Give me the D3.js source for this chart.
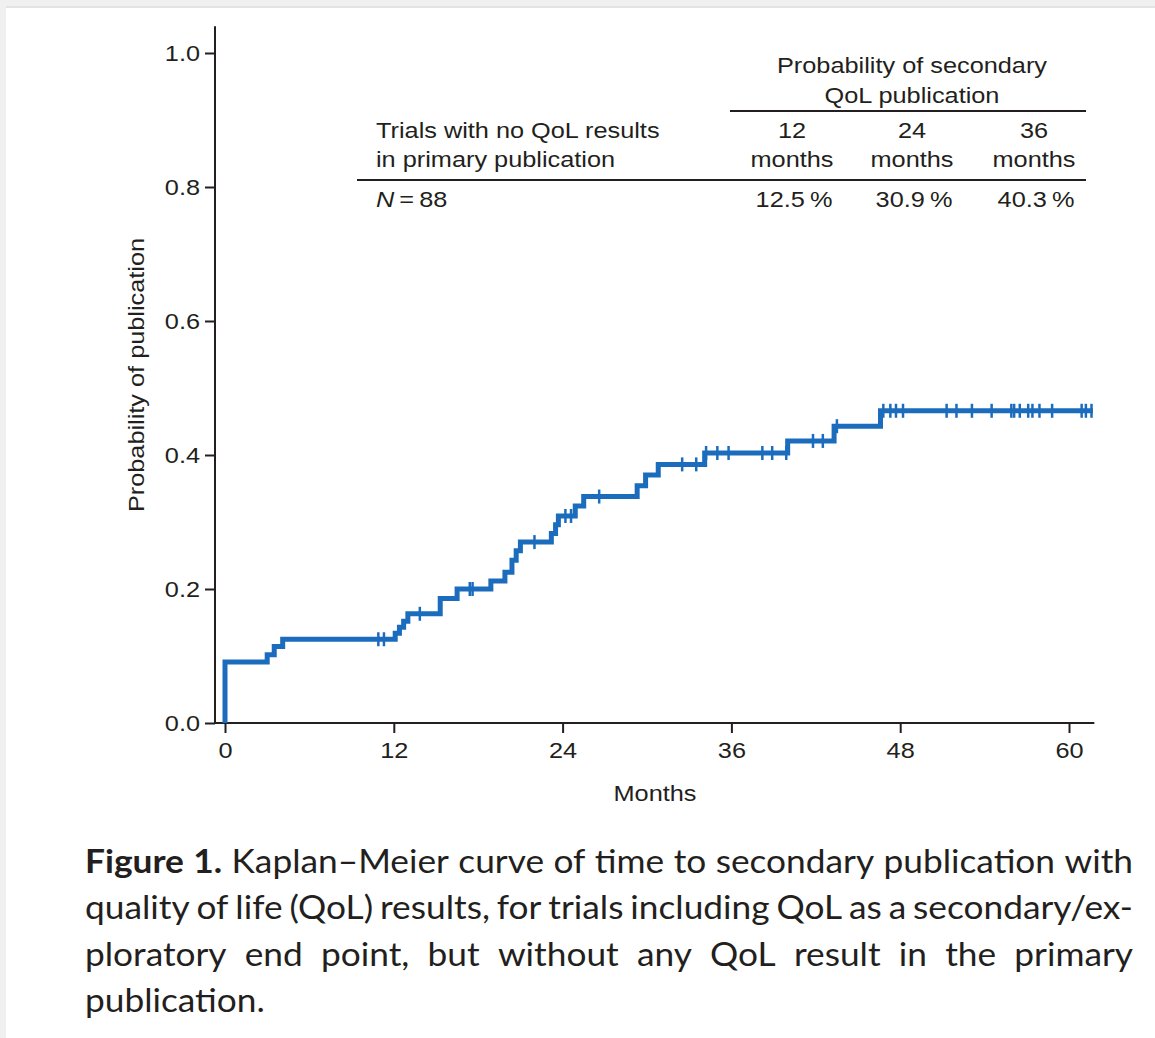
<!DOCTYPE html>
<html>
<head>
<meta charset="utf-8">
<script src="https://cdn.jsdelivr.net/npm/d3@7"></script>
<style>
  html, body { margin: 0; padding: 0; background: #f0f0f0; }
  svg { display: block; }
</style>
</head>
<body>
<svg id="fig" width="1155" height="1038"></svg>
<script>
// Kaplan–Meier estimate: times (months) at which the cumulative probability steps up
const eventTimes = [0, 3.0, 3.5, 4.1, 12.1, 12.4, 12.7, 13.0, 15.3, 16.5, 18.9, 19.9, 20.4, 20.7, 21.0,
  23.2, 23.5, 23.7, 24.9, 25.5, 29.3, 29.9, 30.8, 34.1, 40.0, 43.3, 46.6];
// cumulative probability of publication after each step
const cumProb = [0.091, 0.102, 0.114, 0.125, 0.134, 0.143, 0.152, 0.163, 0.186, 0.200, 0.212, 0.225, 0.243, 0.257, 0.270,
  0.283, 0.296, 0.309, 0.324, 0.338, 0.354, 0.370, 0.386, 0.403, 0.421, 0.443, 0.466];
// censored observations (months)
const censorTimes = [10.9, 11.3, 13.85, 17.4, 17.6, 22.0, 24.2, 24.6, 26.6, 32.5, 33.5, 34.2, 35.0, 35.8,
  38.2, 38.9, 39.9, 41.8, 42.5, 43.5, 46.8, 47.3, 47.7, 48.2, 51.3, 52.0, 53.1, 54.5, 55.9, 56.1, 56.5,
  57.1, 57.4, 57.9, 58.8, 60.9, 61.2, 61.6];
const followUpEnd = 61.7;

const xTicks = [0, 12, 24, 36, 48, 60];
const yTicks = [0, 0.2, 0.4, 0.6, 0.8, 1.0];

// inset table
const tableHeader = ["Probability of secondary", "QoL publication"];
const rowLabel = ["Trials with no QoL results", "in primary publication"];
const landmarkMonths = [12, 24, 36];
const landmarkProb = [12.5, 30.9, 40.3];
const sampleSize = 88;

// caption, one entry per printed line
const captionLines = [
  "Kaplan–Meier curve of time to secondary publication with",
  "quality of life (QoL) results, for trials including QoL as a secondary/ex-",
  "ploratory end point, but without any QoL result in the primary",
  "publication."
];
const captionLead = "Figure 1.";

const svg = d3.select("#fig");
const W = 1155, H = 1038;
const axisFont = "'Liberation Sans', Arial, Helvetica, sans-serif";
const ink = "#231f20";
const blue = "#1c6cbd";
const widen = 1.15;   // the chart lettering is set slightly expanded

// page panel
svg.append("rect").attr("x", 0).attr("y", 0).attr("width", W).attr("height", H).attr("fill", "#f0f0f0");
svg.append("rect").attr("x", 6).attr("y", 6).attr("width", W - 6).attr("height", 2).attr("fill", "#e3e3e3");
svg.append("rect").attr("x", 6).attr("y", 8).attr("width", W - 6).attr("height", H - 8).attr("fill", "#ffffff");

const chart = svg.append("g").attr("class", "chart");
const x = d3.scaleLinear().domain([0, 60]).range([225, 1069]);
const y = d3.scaleLinear().domain([0, 1]).range([723, 53]);
const axisX0 = 215;

// y axis
const gy = chart.append("g").attr("transform", `translate(${axisX0},0)`)
  .call(d3.axisLeft(y).tickValues(yTicks).tickFormat(d3.format(".1f")).tickSize(10).tickPadding(5).tickSizeOuter(0));
gy.select(".domain").remove();
gy.append("line").attr("x1", 0).attr("x2", 0).attr("y1", y(1.04)).attr("y2", y(0))
  .attr("stroke", ink).attr("stroke-width", 2);
gy.selectAll(".tick line").attr("stroke", ink).attr("stroke-width", 2);
gy.selectAll(".tick text").attr("font-family", axisFont).attr("font-size", 22).attr("fill", ink);

// x axis
const gx = chart.append("g").attr("transform", `translate(0,${y(0)})`)
  .call(d3.axisBottom(x).tickValues(xTicks).tickSize(10).tickPadding(9).tickSizeOuter(0));
gx.select(".domain").remove();
gx.append("line").attr("x1", axisX0).attr("x2", x(61.8)).attr("y1", 0).attr("y2", 0)
  .attr("stroke", ink).attr("stroke-width", 2);
gx.selectAll(".tick line").attr("stroke", ink).attr("stroke-width", 2);
gx.selectAll(".tick text").attr("font-family", axisFont).attr("font-size", 22).attr("fill", ink);

// axis titles
chart.append("text").attr("x", 655).attr("y", 801).attr("text-anchor", "middle")
  .attr("font-family", axisFont).attr("font-size", 22).attr("fill", ink).text("Months");
chart.append("text").attr("transform", `translate(144,375) rotate(-90)`).attr("text-anchor", "middle")
  .attr("font-family", axisFont).attr("font-size", 22).attr("fill", ink).text("Probability of publication");

// step curve
const pts = [[0, 0]].concat(eventTimes.map((t, i) => [t, cumProb[i]])).concat([[followUpEnd, cumProb[cumProb.length - 1]]]);
const line = d3.line().x(d => x(d[0])).y(d => y(d[1])).curve(d3.curveStepAfter);
chart.append("path").attr("d", line(pts)).attr("fill", "none").attr("stroke", blue)
  .attr("stroke-width", 5).attr("stroke-linejoin", "miter");

// censor marks
const probAt = t => { const i = d3.bisectRight(eventTimes, t) - 1; return i < 0 ? 0 : cumProb[i]; };
chart.append("g").selectAll("line").data(censorTimes).join("line")
  .attr("x1", d => x(d)).attr("x2", d => x(d))
  .attr("y1", d => y(probAt(d)) - 7).attr("y2", d => y(probAt(d)) + 7)
  .attr("stroke", blue).attr("stroke-width", 2.5);

// inset table
const tf = chart.append("g").attr("font-family", axisFont).attr("font-size", 22).attr("fill", ink);
const colX = [792, 912, 1034];
tf.append("text").attr("x", 912).attr("y", 73).attr("text-anchor", "middle").text(tableHeader[0]);
tf.append("text").attr("x", 912).attr("y", 103).attr("text-anchor", "middle").text(tableHeader[1]);
tf.append("line").attr("x1", 730).attr("x2", 1086).attr("y1", 111).attr("y2", 111).attr("stroke", ink).attr("stroke-width", 2);
tf.append("text").attr("x", 376).attr("y", 138).text(rowLabel[0]);
tf.append("text").attr("x", 376).attr("y", 167).text(rowLabel[1]);
landmarkMonths.forEach((m, i) => {
  tf.append("text").attr("x", colX[i]).attr("y", 138).attr("text-anchor", "middle").text(m);
  tf.append("text").attr("x", colX[i]).attr("y", 167).attr("text-anchor", "middle").text("months");
  tf.append("text").attr("x", colX[i] + 2).attr("y", 207).attr("text-anchor", "middle").text(landmarkProb[i].toFixed(1) + "\u2009%");
});
tf.append("line").attr("x1", 357).attr("x2", 1086).attr("y1", 180).attr("y2", 180).attr("stroke", ink).attr("stroke-width", 2);
const nt = tf.append("text").attr("x", 376).attr("y", 207);
nt.append("tspan").attr("font-style", "italic").text("N");
nt.append("tspan").text("\u2009=\u2009" + sampleSize);

// expanded set width for the chart lettering
chart.selectAll("text").each(function () {
  const len = this.getComputedTextLength();
  d3.select(this).attr("textLength", len * widen).attr("lengthAdjust", "spacingAndGlyphs");
});

// caption, justified word by word
const capFont = "Lato, 'Open Sans', sans-serif";
const capSize = 32;
const capLeft = 85, capRight = 1133, capTop = 873, capLead = 46.3;
const maxW = capRight - capLeft;
const cap = svg.append("g").attr("font-family", capFont).attr("font-size", capSize).attr("fill", "#231f20");
const measure = (w, b) => {
  const t = cap.append("text").attr("font-weight", b ? 700 : 400).text(w);
  const l = t.node().getComputedTextLength(); t.remove(); return l;
};
const space = measure("a a", false) - measure("aa", false);
const lines = captionLines.map((s, i) => {
  const ws = s.split(" ").map(w => ({ w, b: false }));
  if (i === 0) captionLead.split(" ").reverse().forEach(w => ws.unshift({ w, b: true }));
  ws.forEach(d => d.len = measure(d.w, d.b));
  return ws;
});
// horizontal set width chosen so the first line sets with ordinary spaces
const l0 = lines[0];
const k = (maxW - space * 1.15 * (l0.length - 1)) / d3.sum(l0, d => d.len);
lines.forEach((ln, li) => {
  const total = d3.sum(ln, d => d.len * k);
  const last = li === lines.length - 1;
  const gap = last ? space * 1.15 : (maxW - total) / (ln.length - 1);
  let xx = capLeft;
  ln.forEach(d => {
    cap.append("text").attr("x", xx).attr("y", capTop + li * capLead)
      .attr("font-weight", d.b ? 700 : 400)
      .attr("textLength", d.len * k).attr("lengthAdjust", "spacingAndGlyphs")
      .text(d.w);
    xx += d.len * k + gap;
  });
});
</script>
</body>
</html>
